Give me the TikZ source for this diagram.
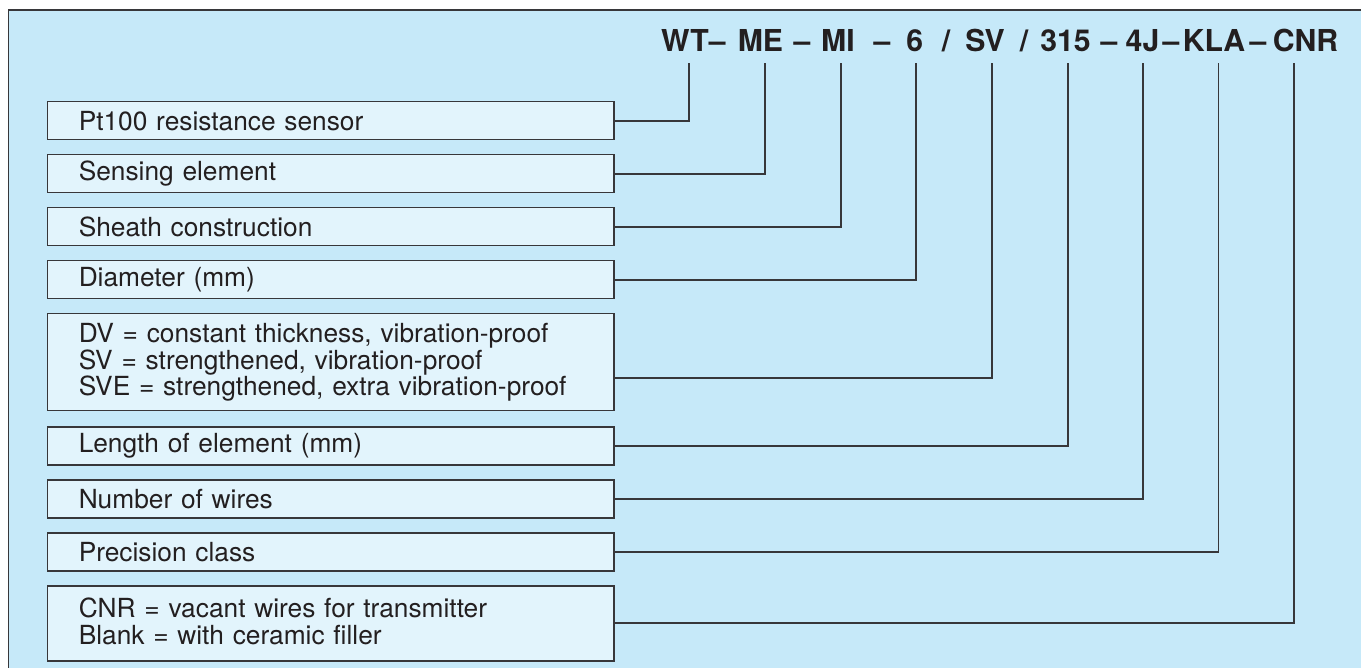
\documentclass[tikz,border=0pt]{standalone}
\usepackage{fontspec}
\setmainfont{TeX Gyre Heros}
\usetikzlibrary{calc}
\definecolor{framefill}{RGB}{198,233,249}
\definecolor{boxfill}{RGB}{226,244,252}
\definecolor{linec}{RGB}{55,55,58}
\definecolor{textc}{RGB}{35,31,32}
\begin{document}
\begin{tikzpicture}[x=1pt,y=-1pt,
 infobox/.style={draw=linec, line width=1.5pt, fill=boxfill, anchor=north west,
   minimum width=566.5pt, text width=503.5pt, inner xsep=31.5pt, inner ysep=0pt,
   align=left, font=\fontsize{26.3}{24}\selectfont, text=textc},
 conn/.style={draw=linec, line width=1.9pt},
 code/.style={anchor=base, inner sep=0pt, font=\fontsize{30.2}{32}\selectfont\bfseries, text=textc}]
\useasboundingbox (0,0) rectangle (1361,668);
\clip (0,0) rectangle (1361,668);
\fill[framefill] (8.5,10) rectangle (1370,680);
\draw[linec, line width=1.6pt] (8.5,690) -- (8.5,10) -- (1370,10);

% code pieces
\foreach \x/\t/\n in {693.4/WT–/c1, 760.4/ME/c2, 802/–/c3, 838/MI/c4, 882/–/c5,
  914.8/6/c6, 946/{/}/c7, 985/SV/c8, 1024/{/}/c9, 1065.5/315/c10, 1109/–/c11,
  1142.5/4J/c12, 1171/–/c13, 1214/KLA/c14, 1258/–/c15, 1305.5/CNR/c16}
  \node[code] (\n) at (\x,51.7) {\t};

% tops of the leader lines
\foreach \x [count=\i] in {689,765,841,916,992,1068,1143,1218.5,1294}
  \coordinate (t\i) at (\x,63.3);

\node[infobox, minimum height=38pt] (b1) at (46.5,101) {Pt100 resistance sensor};
\node[infobox, minimum height=38pt] (b2) at (46.5,154) {Sensing element};
\node[infobox, minimum height=38pt] (b3) at (46.5,207) {Sheath construction};
\node[infobox, minimum height=38pt] (b4) at (46.5,260) {Diameter (mm)};
\node[infobox, minimum height=97pt] (b5) at (46.5,313) {DV = constant thickness, vibration-proof\\SV = strengthened, vibration-proof\\SVE = strengthened, extra vibration-proof};
\node[infobox, minimum height=38pt] (b6) at (46.5,426) {Length of element (mm)};
\node[infobox, minimum height=38pt] (b7) at (46.5,479) {Number of wires};
\node[infobox, minimum height=38pt] (b8) at (46.5,532) {Precision class};
\node[infobox, minimum height=75pt, font=\fontsize{26.3}{27}\selectfont] (b9) at (46.5,585) {\raisebox{0pt}[0pt][0pt]{}CNR = vacant wires for transmitter\\Blank = with ceramic filler\vspace{4pt}};

\draw[conn] (b1.east) -| (t1);
\draw[conn] (b2.east) -| (t2);
\draw[conn] (b3.east) -| (t3);
\draw[conn] (b4.east) -| (t4);
\draw[conn] ($(b5.east)+(0,15.5)$) -| (t5);
\draw[conn] (b6.east) -| (t6);
\draw[conn] (b7.east) -| (t7);
\draw[conn] (b8.east) -| (t8);
\draw[conn] (b9.east) -| (t9);
\end{tikzpicture}
\end{document}
